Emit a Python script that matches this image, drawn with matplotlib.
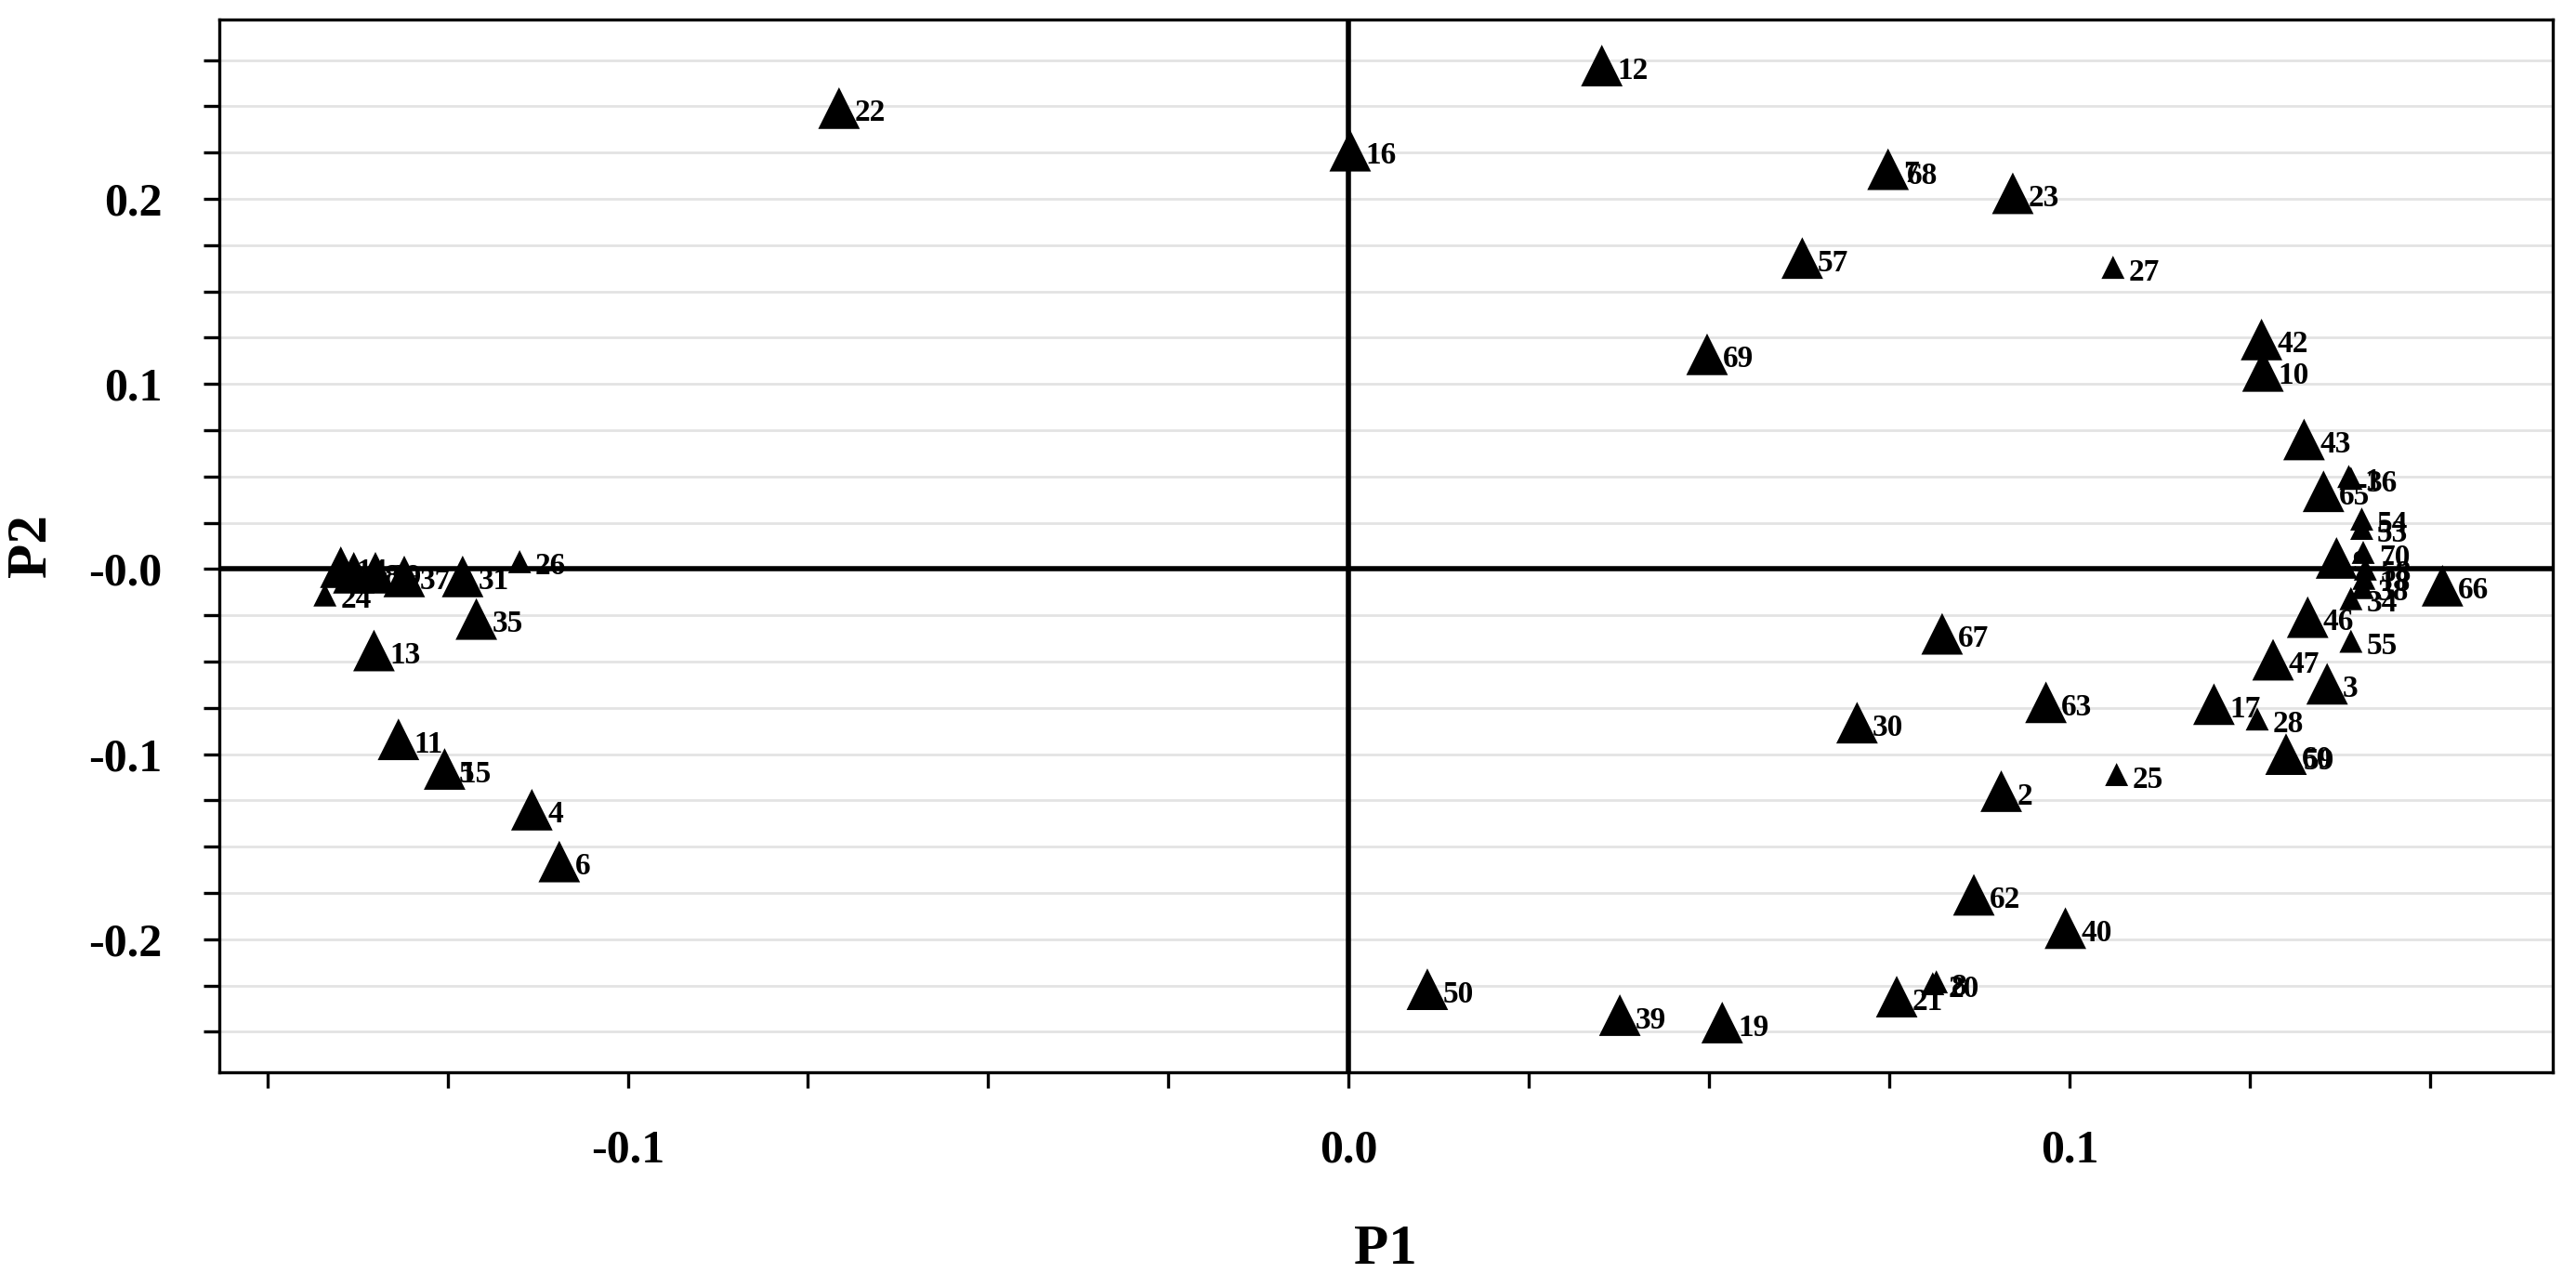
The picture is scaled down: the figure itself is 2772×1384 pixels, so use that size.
import numpy as np
import matplotlib.pyplot as plt
from matplotlib.ticker import MultipleLocator, FixedLocator

labels = ["12", "22", "16", "7", "68", "23", "57", "27", "69", "42", "10", "43", "1", "36", "65",
          "54", "53", "70", "9", "58", "18", "38", "34", "66", "46", "55", "47", "67", "3", "17",
          "28", "63", "30", "60", "59", "25", "2", "62", "40", "50", "21", "20", "8", "39", "19",
          "14", "24", "29", "37", "48", "31", "26", "35", "13", "11", "15", "5", "4", "6"]
p1 = [0.0351, -0.0707, 0.0002, 0.0748, 0.0752, 0.0921, 0.0629, 0.1060, 0.0497, 0.1266, 0.1268, 0.1325, 0.1387, 0.1390, 0.1352,
      0.1405, 0.1405, 0.1407, 0.1370, 0.1410, 0.1408, 0.1406, 0.1390, 0.1517, 0.1330, 0.1390, 0.1282, 0.0823, 0.1357, 0.1200,
      0.1260, 0.0967, 0.0705, 0.1300, 0.1302, 0.1065, 0.0905, 0.0867, 0.0994, 0.0109, 0.0760, 0.0810, 0.0815, 0.0376, 0.0518,
      -0.1398, -0.1420, -0.1350, -0.1310, -0.1380, -0.1229, -0.1150, -0.1210, -0.1352, -0.1318, -0.1254, -0.1256, -0.1133, -0.1095]
p2 = [0.272, 0.249, 0.226, 0.216, 0.215, 0.203, 0.168, 0.163, 0.116, 0.124, 0.107, 0.070, 0.050, 0.049, 0.042,
      0.027, 0.022, 0.009, 0.006, 0.000, -0.005, -0.010, -0.016, -0.009, -0.026, -0.039, -0.049, -0.035, -0.062, -0.073,
      -0.081, -0.072, -0.083, -0.100, -0.101, -0.111, -0.120, -0.176, -0.194, -0.227, -0.231, -0.224, -0.223, -0.241, -0.245,
      0.001, -0.014, -0.002, -0.004, -0.002, -0.004, 0.004, -0.027, -0.044, -0.092, -0.108, -0.108, -0.130, -0.158]
big = [1, 1, 1, 1, 0, 1, 1, 0, 1, 1, 1, 1, 0, 0, 1,
       0, 0, 0, 1, 0, 0, 0, 0, 1, 1, 0, 1, 1, 1, 1,
       0, 1, 1, 1, 0, 0, 1, 1, 1, 1, 1, 0, 0, 1, 1,
       1, 0, 1, 1, 1, 1, 0, 1, 1, 1, 1, 0, 1, 1]

plt.rcParams['font.family'] = ['Liberation Serif', 'DejaVu Serif']
fig = plt.figure(figsize=(13.86, 6.92), dpi=200)
ax = fig.add_axes([0.085, 0.166, 0.906, 0.819])

sizes = [260 if b else 80 for b in big]
ax.scatter(p1, p2, s=sizes, marker='^', c='black', zorder=3, linewidths=0)
for x, y, t in zip(p1, p2, labels):
    ax.annotate(t, (x, y), xytext=(6, -2), textcoords='offset points',
                fontsize=12, fontweight='bold', va='center', zorder=4)

ax.axhline(0, color='black', lw=2, zorder=2)
ax.axvline(0, color='black', lw=2, zorder=2)

ax.set_xlim(-0.1567, 0.167)
ax.set_ylim(-0.272, 0.297)
ax.xaxis.set_major_locator(FixedLocator([-0.1, 0.0, 0.1]))
ax.xaxis.set_minor_locator(MultipleLocator(0.025))
ax.yaxis.set_major_locator(FixedLocator([-0.2, -0.1, 0.0, 0.1, 0.2]))
ax.yaxis.set_minor_locator(MultipleLocator(0.025))
ax.set_xticklabels(['-0.1', '0.0', '0.1'])
ax.set_yticklabels(['-0.2', '-0.1', '-0.0', '0.1', '0.2'])
ax.grid(True, axis='y', which='both', color='#e3e3e3', lw=1, zorder=0)
ax.tick_params(which='both', direction='out', length=6, width=1.2, labelsize=18)
ax.tick_params(which='major', pad=16)
for lab in ax.get_xticklabels() + ax.get_yticklabels():
    lab.set_fontweight('bold')
for s in ax.spines.values():
    s.set_linewidth(1.2)

ax.set_xlabel('P1', fontsize=22, fontweight='bold', labelpad=20)
ax.set_ylabel('P2', fontsize=22, fontweight='bold', labelpad=12)

fig.savefig('out.png', dpi=200)
